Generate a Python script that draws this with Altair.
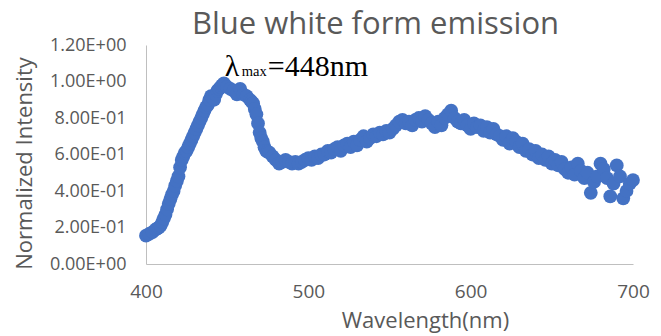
import altair as alt
import pandas as pd

# Wavelength sample points (nm): finer where the curve is steep
wavelength = (
    list(range(400, 407, 2))
    + list(range(407, 448, 1))
    + list(range(448, 465, 2))
    + list(range(465, 476, 1))
    + list(range(476, 701, 2))
)
# Normalized intensity
intensity = [
    0.155, 0.165, 0.175, 0.19,                                        # 400-406
    0.195, 0.20, 0.21, 0.23, 0.25, 0.27, 0.30, 0.33, 0.355, 0.38,     # 407-416
    0.40, 0.43, 0.455, 0.48, 0.53, 0.57, 0.59, 0.61, 0.62, 0.64,      # 417-426
    0.66, 0.68, 0.70, 0.72, 0.74, 0.76, 0.78, 0.80, 0.82, 0.84,       # 427-436
    0.86, 0.87, 0.90, 0.92, 0.91, 0.90, 0.93, 0.95, 0.96, 0.97,       # 437-446
    0.98,                                                             # 447
    0.99, 0.97, 0.96, 0.95, 0.93, 0.96, 0.93, 0.92, 0.90,             # 448-464
    0.89, 0.88, 0.85, 0.82, 0.77, 0.72, 0.69, 0.67, 0.64, 0.62,       # 465-474
    0.615,                                                            # 475
    0.61, 0.59,                                                       # 476-478
    0.57, 0.55, 0.56, 0.57, 0.56, 0.55, 0.56, 0.55, 0.56, 0.57,       # 480-498
    0.58, 0.57, 0.59, 0.58, 0.60, 0.60, 0.62, 0.61, 0.63, 0.64,       # 500-518
    0.62, 0.65, 0.66, 0.64, 0.67, 0.65, 0.68, 0.70, 0.67, 0.69,       # 520-538
    0.71, 0.70, 0.72, 0.71, 0.73, 0.72, 0.74, 0.76, 0.78, 0.79,       # 540-558
    0.77, 0.78, 0.76, 0.79, 0.80, 0.78, 0.81, 0.79, 0.77, 0.75,       # 560-578
    0.78, 0.76, 0.80, 0.82, 0.84, 0.80, 0.78, 0.77, 0.79, 0.76,       # 580-598
    0.74, 0.77, 0.75, 0.76, 0.73, 0.75, 0.72, 0.74, 0.71, 0.70,       # 600-618
    0.68, 0.70, 0.66, 0.69, 0.67, 0.64, 0.66, 0.62, 0.63, 0.60,       # 620-638
    0.62, 0.58, 0.60, 0.57, 0.59, 0.55, 0.57, 0.54, 0.56, 0.52,       # 640-658
    0.50, 0.53, 0.49, 0.55, 0.51, 0.47, 0.50, 0.39, 0.45, 0.48,       # 660-678
    0.55, 0.52, 0.47, 0.37, 0.44, 0.54, 0.48, 0.36, 0.40, 0.44,       # 680-698
    0.46,                                                             # 700
]

x_ticks = [400, 500, 600, 700]
y_ticks = [0.0, 0.2, 0.4, 0.6, 0.8, 1.0, 1.2]

title_text = "Blue white form emission"
x_title = "Wavelength(nm)"
y_title = "Normalized Intensity"

# annotation anchor (data coords) and pieces
annot_x = [448.5]
annot_y = [1.03]
annot_parts = ["λ", "max", "=448nm"]

df = pd.DataFrame({"wavelength": wavelength, "intensity": intensity})
adf = pd.DataFrame({"wavelength": annot_x, "intensity": annot_y})

GRAY = "#595959"
LINE = "#bfbfbf"
FONT = "Open Sans"

xscale = alt.Scale(domain=[400, 700], nice=False, zero=False)
yscale = alt.Scale(domain=[0, 1.2], nice=False)

label_expr = (
    "datum.value == 0 ? '0.00E+00' : (datum.value < 0.999 ? "
    "format(datum.value*10, '.2f') + 'E-01' : format(datum.value, '.2f') + 'E+00')"
)

x_axis = alt.Axis(
    values=x_ticks, title=x_title, grid=False, ticks=False,
    labelFlush=False, labelOverlap=False,
    domainColor=LINE, labelColor=GRAY, labelFont=FONT, labelFontSize=19,
    labelPadding=18, titleColor=GRAY, titleFont=FONT, titleFontSize=22,
    titleFontWeight="normal", titleX=279, titleY=56,
    titleBaseline="middle", titleAlign="center",
)
y_axis = alt.Axis(
    values=y_ticks, title=y_title, grid=False, ticks=False,
    labelFlush=False, labelOverlap=False, labelBound=False,
    domainColor=LINE, labelColor=GRAY, labelFont=FONT, labelFontSize=18,
    labelPadding=20, labelExpr=label_expr,
    titleColor=GRAY, titleFont=FONT, titleFontSize=22,
    titleFontWeight="normal", titleX=-122, titleY=118,
    titleBaseline="middle", titleAlign="center", titleAngle=-90,
)

enc_x = alt.X("wavelength:Q", scale=xscale, axis=x_axis)
enc_y = alt.Y("intensity:Q", scale=yscale, axis=y_axis)

points = alt.Chart(df).mark_circle(size=190, color="#4472C4", opacity=1).encode(
    x=enc_x, y=enc_y
)

base_a = alt.Chart(adf).encode(x=enc_x, y=enc_y)
lam = base_a.mark_text(text=annot_parts[0], font="Liberation Serif", fontSize=30,
                       align="left", baseline="alphabetic", color="black", dx=0)
sub = base_a.mark_text(text=annot_parts[1], font="Liberation Serif", fontSize=14.5,
                       align="left", baseline="alphabetic", color="black", dx=17)
rest = base_a.mark_text(text=annot_parts[2], font="Liberation Serif", fontSize=30,
                        align="left", baseline="alphabetic", color="black", dx=43)

chart = alt.layer(points, lam, sub, rest).properties(
    width=487,
    height=219,
    title=alt.TitleParams(
        text=title_text, font=FONT, fontSize=31, fontWeight="normal",
        color=GRAY, anchor="middle", dx=-14, offset=-5,
    ),
    autosize=alt.AutoSizeParams(type="none"),
    padding={"left": 146, "top": 45, "right": 28, "bottom": 72},
).configure(
    background="white",
    view=alt.ViewConfig(stroke="transparent"),
    axis=alt.AxisConfig(labelOverlap=False),
)

chart.save("out.html", embed_options={"renderer": "svg", "actions": False})
